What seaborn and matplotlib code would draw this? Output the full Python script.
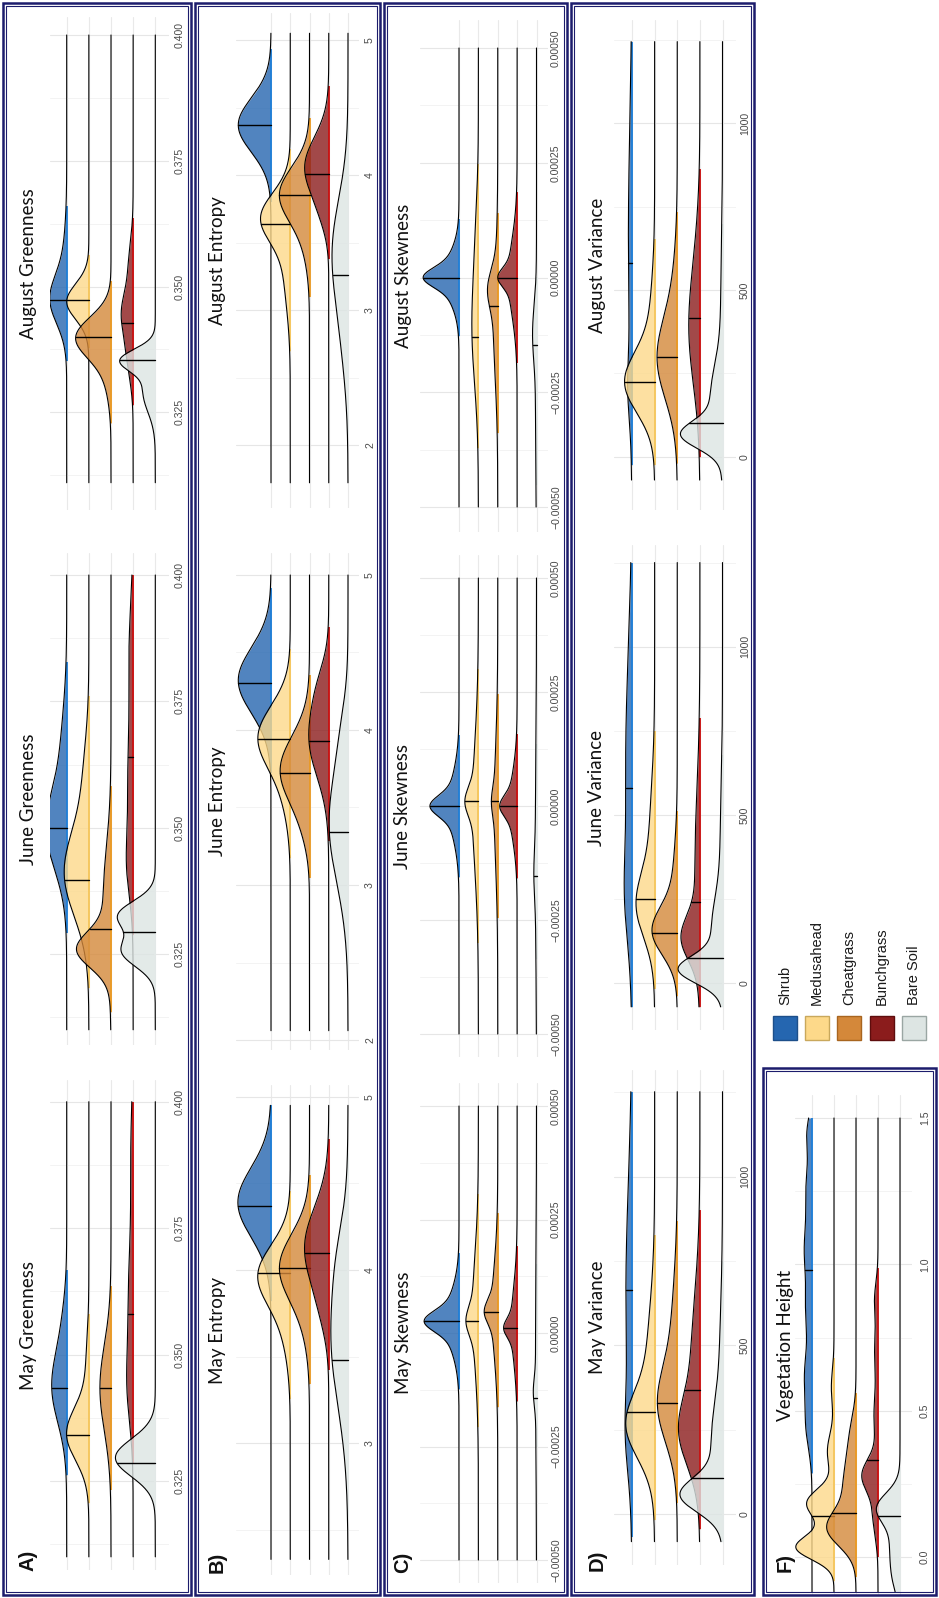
import numpy as np
import matplotlib
matplotlib.use("Agg")
import matplotlib.pyplot as plt
from matplotlib.patches import Rectangle
import seaborn as sns

# ---------------------------------------------------------------- data
GROUPS = ["Shrub", "Medusahead", "Cheatgrass", "Bunchgrass", "Bare Soil"]

# Each ridge: list of (centre, spread, height-in-ridge-units) bumps, plus median.
# ---- Greenness
aug_greenness_span = [0.311, 0.400]
aug_greenness_median = [0.3473, 0.3473, 0.3399, 0.3428, 0.3353]
aug_greenness_peaks = [
    [(0.3473, 0.0048, 0.72), (0.3560, 0.0060, 0.12)],
    [(0.3470, 0.0035, 1.00)],
    [(0.3400, 0.0040, 1.50), (0.3330, 0.0050, 0.25)],
    [(0.3450, 0.0040, 0.42), (0.3370, 0.0050, 0.28), (0.3540, 0.0050, 0.20)],
    [(0.3354, 0.0022, 1.45), (0.3290, 0.0040, 0.55)],
]
june_greenness_span = [0.310, 0.400]
june_greenness_median = [0.3500, 0.3396, 0.3300, 0.3640, 0.3294]
june_greenness_peaks = [
    [(0.3495, 0.0078, 0.90), (0.3660, 0.0085, 0.22)],
    [(0.3410, 0.0085, 1.10), (0.3600, 0.0080, 0.22)],
    [(0.3258, 0.0035, 1.35), (0.3360, 0.0100, 0.35)],
    [(0.3420, 0.0060, 0.20), (0.3580, 0.0120, 0.24), (0.3850, 0.0100, 0.17)],
    [(0.3327, 0.0028, 1.62), (0.3255, 0.0030, 1.48)],
]
may_greenness_span = [0.310, 0.400]
may_greenness_median = [0.3433, 0.3340, 0.3434, 0.3580, 0.3286]
may_greenness_peaks = [
    [(0.3435, 0.0070, 0.66), (0.3560, 0.0060, 0.14)],
    [(0.3343, 0.0052, 1.00), (0.3480, 0.0060, 0.12)],
    [(0.3434, 0.0085, 0.50)],
    [(0.3430, 0.0070, 0.20), (0.3600, 0.0120, 0.22), (0.3900, 0.0100, 0.10)],
    [(0.3296, 0.0037, 1.80)],
]

# ---- Entropy
aug_entropy_span = [1.72, 5.05]
aug_entropy_median = [4.37, 3.64, 3.85, 4.01, 3.26]
aug_entropy_peaks = [
    [(4.37, 0.20, 1.70)],
    [(3.69, 0.18, 1.42), (3.30, 0.28, 0.32)],
    [(3.86, 0.20, 1.52), (3.50, 0.20, 0.22)],
    [(4.06, 0.22, 1.24), (3.70, 0.15, 0.20)],
    [(3.45, 0.38, 0.78), (2.80, 0.35, 0.25)],
]
june_entropy_span = [2.06, 5.00]
june_entropy_median = [4.30, 3.94, 3.72, 3.93, 3.34]
june_entropy_peaks = [
    [(4.32, 0.21, 1.70)],
    [(3.96, 0.20, 1.62), (3.60, 0.20, 0.30)],
    [(3.74, 0.22, 1.52), (3.35, 0.15, 0.15)],
    [(3.95, 0.25, 1.02), (4.30, 0.15, 0.25)],
    [(3.40, 0.38, 0.98), (4.00, 0.20, 0.15)],
]
may_entropy_span = [2.33, 4.95]
may_entropy_median = [4.37, 3.98, 4.01, 4.10, 3.48]
may_entropy_peaks = [
    [(4.39, 0.20, 1.72)],
    [(3.98, 0.17, 1.55), (3.70, 0.20, 0.35)],
    [(4.02, 0.19, 1.52), (3.70, 0.18, 0.20)],
    [(4.13, 0.23, 1.25), (3.75, 0.15, 0.20)],
    [(3.62, 0.40, 0.88), (4.10, 0.20, 0.18)],
]

# ---- Skewness
aug_skewness_span = [-0.0005, 0.0005]
aug_skewness_median = [0.0, -0.00013, -0.000063, 0.0, -0.000147]
aug_skewness_peaks = [
    [(0.0, 0.000020, 1.05), (0.0, 0.000050, 0.80)],
    [(-0.00011, 0.00012, 0.33), (0.00010, 0.00009, 0.10)],
    [(-0.000024, 0.000040, 0.35), (-0.00010, 0.00012, 0.22)],
    [(0.0, 0.000020, 0.55), (0.0, 0.000080, 0.45)],
    [(-0.00012, 0.00006, 0.18), (-0.00030, 0.00015, 0.05)],
]
june_skewness_span = [-0.0005, 0.0005]
june_skewness_median = [0.0, 0.00001, 0.00001, 0.0, -0.000154]
june_skewness_peaks = [
    [(0.0, 0.000022, 0.95), (0.0, 0.000065, 0.55)],
    [(0.00001, 0.000030, 0.40), (0.0, 0.000140, 0.30)],
    [(0.00001, 0.000030, 0.15), (0.0, 0.000130, 0.18)],
    [(0.0, 0.000022, 0.50), (0.0, 0.000070, 0.40)],
    [(-0.00015, 0.000050, 0.08), (-0.00010, 0.000200, 0.06)],
]
may_skewness_span = [-0.0005, 0.0005]
may_skewness_median = [0.000026, 0.000026, 0.000047, 0.000011, -0.000143]
may_skewness_peaks = [
    [(0.000026, 0.000022, 1.10), (0.000026, 0.000060, 0.70)],
    [(0.000026, 0.000030, 0.35), (0.000050, 0.000120, 0.30)],
    [(0.000047, 0.000025, 0.40), (0.000050, 0.000100, 0.30)],
    [(0.000011, 0.000020, 0.40), (0.000020, 0.000080, 0.30)],
    [(-0.000130, 0.000030, 0.12), (-0.000050, 0.000200, 0.05)],
]

# ---- Variance
aug_variance_span = [-70, 1245]
aug_variance_median = [580, 225, 300, 415, 100]
aug_variance_peaks = [
    [(200, 90, 0.12), (650, 350, 0.16)],
    [(220, 90, 1.25), (400, 130, 0.20)],
    [(290, 120, 0.85), (500, 130, 0.15)],
    [(370, 160, 0.45), (600, 150, 0.12)],
    [(65, 40, 1.55), (170, 100, 0.50), (420, 200, 0.08)],
]
june_variance_span = [-70, 1250]
june_variance_median = [579, 250, 150, 242, 74]
june_variance_peaks = [
    [(250, 130, 0.20), (650, 330, 0.28)],
    [(228, 95, 0.72), (430, 160, 0.22)],
    [(153, 70, 1.00), (280, 120, 0.20)],
    [(134, 65, 0.70), (350, 220, 0.22)],
    [(40, 40, 1.70), (150, 100, 0.45), (400, 180, 0.10)],
]
may_variance_span = [-82, 1252]
may_variance_median = [664, 303, 328, 368, 106]
may_variance_peaks = [
    [(230, 110, 0.18), (650, 330, 0.27)],
    [(259, 95, 1.05), (430, 180, 0.35)],
    [(318, 110, 0.75), (520, 170, 0.25)],
    [(240, 100, 0.72), (450, 200, 0.38)],
    [(55, 50, 1.65), (200, 120, 0.45), (450, 180, 0.12)],
]

# ---- Vegetation height
vegetation_height_span = [-0.12, 1.50]
vegetation_height_median = [0.98, 0.14, 0.15, 0.33, 0.14]
vegetation_height_peaks = [
    [(0.45, 0.08, 0.26), (0.62, 0.08, 0.30), (0.85, 0.10, 0.28),
     (1.05, 0.08, 0.28), (1.25, 0.10, 0.27), (1.45, 0.06, 0.20)],
    [(0.03, 0.04, 1.60), (0.19, 0.045, 1.10), (0.11, 0.05, 0.45),
     (0.36, 0.06, 0.30), (0.58, 0.06, 0.12)],
    [(0.095, 0.06, 1.20), (0.25, 0.09, 0.55), (0.42, 0.07, 0.22)],
    [(0.28, 0.055, 0.70), (0.14, 0.07, 0.22), (0.48, 0.08, 0.18),
     (0.70, 0.08, 0.15), (0.88, 0.06, 0.15)],
    [(0.17, 0.05, 0.90), (0.03, 0.10, 0.45), (-0.08, 0.05, 0.10)],
]

# tick values and labels per measure
greenness_ticks = [0.325, 0.350, 0.375, 0.400]
greenness_labels = ["0.325", "0.350", "0.375", "0.400"]
entropy_ticks = [2, 3, 4, 5]
entropy_labels = ["2", "3", "4", "5"]
skewness_ticks = [-0.0005, -0.00025, 0.0, 0.00025, 0.0005]
skewness_labels = ["\u22120.00050", "\u22120.00025", "0.00000", "0.00025", "0.00050"]
variance_ticks = [0, 500, 1000]
variance_labels = ["0", "500", "1000"]
height_ticks = [0.0, 0.5, 1.0, 1.5]
height_labels = ["0.0", "0.5", "1.0", "1.5"]

# ---------------------------------------------------------------- style
FILL = ["#2566b0", "#fdd98a", "#d4883a", "#8b1c1c", "#dde5e3"]
EDGE = ["#1f7fd8", "#f5c55a", "#eb9a22", "#cc1010", "#e3e9e8"]
LEGEND_EDGE = ["#1d4f8a", "#c9a85c", "#a8651f", "#5e0d0d", "#9aa6a3"]
NAVY = "#1c1c6c"

sns.set_theme(style="white")
plt.rcParams["font.family"] = ["Liberation Sans", "DejaVu Sans"]

W, H = 939, 1598
fig = plt.figure(figsize=(W / 100, H / 100), dpi=100)


def fx(px):
    return px / W


def fy(py):
    return 1 - py / H


# column geometry in pixels (portrait layout: value axis runs upward)
ROWS = {
    "A": dict(shrub=66.7, bare=155.3, left=50, right=169, label_x=180, title_x=28.5, tag_y=1560),
    "B": dict(shrub=271, bare=348, left=236, right=359, label_x=370, title_x=217, tag_y=1562),
    "C": dict(shrub=459, bare=536.5, left=420, right=548, label_x=556, title_x=403, tag_y=1562),
    "D": dict(shrub=632, bare=722.5, left=614, right=736, label_x=745, title_x=597, tag_y=1560),
    "F": dict(shrub=812, bare=900, left=795, right=912, label_x=925, title_x=785, tag_y=1562),
}


def minor_between(ticks, lo, hi):
    t = np.asarray(ticks, dtype=float)
    step = t[1] - t[0]
    cand = np.arange(t[0] - step / 2, t[-1] + step, step)
    return [c for c in cand if lo <= c <= hi]


def draw_panel(row, title, span, medians, peaks, ticks, labels, vpix, ref):
    r = ROWS[row]
    top, bottom = vpix
    ax = fig.add_axes([fx(r["left"]), fy(bottom), (r["right"] - r["left"]) / W, (bottom - top) / H])
    sp = (r["bare"] - r["shrub"]) / 4.0
    (v1, y1), (v2, y2) = ref
    slope = (v2 - v1) / (y2 - y1)
    ylo = v1 + (bottom - y1) * slope
    yhi = v1 + (top - y1) * slope
    xlim = ((r["bare"] - r["left"]) / sp, (r["bare"] - r["right"]) / sp)

    v = np.linspace(span[0], span[1], 900)
    for i, comps in enumerate(peaks):
        level = 4 - i
        h = np.zeros_like(v)
        for c, s, a in comps:
            h += a * np.exp(-0.5 * ((v - c) / s) ** 2)
        z = 3 + i * 4
        mask = h > 0.03
        ax.fill_betweenx(v, level, level + h, where=mask, color=FILL[i], alpha=0.8,
                         lw=0, zorder=z)
        if mask.any():
            ax.plot([level, level], [v[mask].min(), v[mask].max()], color=EDGE[i],
                    lw=1.3, solid_capstyle="butt", zorder=z + 1)
        sns.lineplot(x=level + h, y=v, orient="y", sort=False, estimator=None,
                     color="black", lw=0.8, ax=ax, zorder=z + 2)
        med = medians[i]
        hm = np.interp(med, v, h)
        ax.plot([level, level + hm], [med, med], color="black", lw=1.0, zorder=z + 3)

    ax.set_axisbelow(True)
    ax.set_facecolor("none")
    for s in ax.spines.values():
        s.set_visible(False)
    ax.set_xticks(range(5))
    ax.set_xticklabels([])
    ax.tick_params(axis="x", length=0)
    keep = [k for k, t in enumerate(ticks) if ylo <= t <= yhi]
    ax.set_yticks([ticks[k] for k in keep])
    ax.set_yticklabels([labels[k] for k in keep])
    ax.set_yticks(minor_between(ticks, ylo, yhi), minor=True)
    ax.set_xlim(*xlim)
    ax.set_ylim(ylo, yhi)
    ax.grid(axis="x", color="#e9e9e9", lw=0.8)
    ax.grid(axis="y", which="major", color="#e6e6e6", lw=0.8)
    ax.grid(axis="y", which="minor", color="#f1f1f1", lw=0.6)
    ax.yaxis.tick_right()
    pad_px = r["label_x"] - 5 - r["right"]
    ax.tick_params(axis="y", which="both", length=0, pad=pad_px * 0.72,
                   labelsize=7.6, labelcolor="#4a4a4a")
    for lab in ax.get_yticklabels():
        lab.set_rotation(90)
        lab.set_va("center")
        lab.set_ha("left")
    ax.set_xlabel("")
    ax.set_ylabel("")

    fig.text(fx(r["title_x"]), fy((top + bottom) / 2), title, rotation=90,
             ha="center", va="center", fontsize=13.5, family=["Lato", "DejaVu Sans"],
             color="#111111")
    return ax


# ---------------------------------------------------------------- panels
draw_panel("A", "August Greenness", aug_greenness_span, aug_greenness_median, aug_greenness_peaks,
           greenness_ticks, greenness_labels, (17, 510), ((0.400, 35), (0.325, 412.3)))
draw_panel("A", "June Greenness", june_greenness_span, june_greenness_median, june_greenness_peaks,
           greenness_ticks, greenness_labels, (553, 1045), ((0.400, 575), (0.325, 954)))
draw_panel("A", "May Greenness", may_greenness_span, may_greenness_median, may_greenness_peaks,
           greenness_ticks, greenness_labels, (1080, 1570), ((0.400, 1101.7), (0.325, 1481)))

draw_panel("B", "August Entropy", aug_entropy_span, aug_entropy_median, aug_entropy_peaks,
           entropy_ticks, entropy_labels, (13, 508), ((5, 40), (2, 445)))
draw_panel("B", "June Entropy", june_entropy_span, june_entropy_median, june_entropy_peaks,
           entropy_ticks, entropy_labels, (553, 1050), ((5, 575), (2, 1040)))
draw_panel("B", "May Entropy", may_entropy_span, may_entropy_median, may_entropy_peaks,
           entropy_ticks, entropy_labels, (1085, 1575), ((5, 1096.7), (3, 1443.3)))

draw_panel("C", "August Skewness", aug_skewness_span, aug_skewness_median, aug_skewness_peaks,
           skewness_ticks, skewness_labels, (20, 532), ((0.0005, 48), (-0.0005, 507)))
draw_panel("C", "June Skewness", june_skewness_span, june_skewness_median, june_skewness_peaks,
           skewness_ticks, skewness_labels, (555, 1057), ((0.0005, 578), (-0.0005, 1034)))
draw_panel("C", "May Skewness", may_skewness_span, may_skewness_median, may_skewness_peaks,
           skewness_ticks, skewness_labels, (1083, 1583), ((0.0005, 1106), (-0.0005, 1560)))

draw_panel("D", "August Variance", aug_variance_span, aug_variance_median, aug_variance_peaks,
           variance_ticks, variance_labels, (20, 510), ((0, 456.7), (1000, 123.3)))
draw_panel("D", "June Variance", june_variance_span, june_variance_median, june_variance_peaks,
           variance_ticks, variance_labels, (545, 1030), ((0, 983.3), (1000, 646.7)))
draw_panel("D", "May Variance", may_variance_span, may_variance_median, may_variance_peaks,
           variance_ticks, variance_labels, (1070, 1565), ((0, 1514), (1000, 1176.7)))

draw_panel("F", "Vegetation Height", vegetation_height_span, vegetation_height_median,
           vegetation_height_peaks, height_ticks, height_labels, (1095, 1595),
           ((0.0, 1557), (1.5, 1118)))

# ---------------------------------------------------------------- frames and tags
FRAMES = {"A": (3, 3, 191, 1595), "B": (195, 3, 380, 1595), "C": (384, 3, 567, 1595),
          "D": (571, 3, 754, 1595), "F": (763, 1068, 936, 1595)}
for tag, (x0, y0, x1, y1) in FRAMES.items():
    for inset, lw in ((0, 1.8), (2.6, 0.8)):
        fig.add_artist(Rectangle((fx(x0 + inset), fy(y1 - inset)), (x1 - x0 - 2 * inset) / W,
                                 (y1 - y0 - 2 * inset) / H, transform=fig.transFigure,
                                 fill=False, edgecolor=NAVY, lw=lw, zorder=50))
    r = ROWS[tag]
    fig.text(fx(r["title_x"]), fy(r["tag_y"]), tag + ")", rotation=90, ha="center",
             va="center", fontsize=14.5, fontweight="bold", color="#111111")

# ---------------------------------------------------------------- legend
legend_x = [785, 817, 849, 882, 914]
sq = 24
for i, name in enumerate(GROUPS):
    cx = legend_x[i]
    fig.add_artist(Rectangle((fx(cx - sq / 2), fy(1040)), sq / W, sq / H,
                             transform=fig.transFigure, facecolor=FILL[i],
                             edgecolor=LEGEND_EDGE[i], lw=1.0, zorder=50))
    fig.text(fx(cx), fy(1005), name, rotation=90, ha="center", va="bottom",
             fontsize=10.5, color="#1a1a1a")

fig.savefig("out.png", dpi=100)
